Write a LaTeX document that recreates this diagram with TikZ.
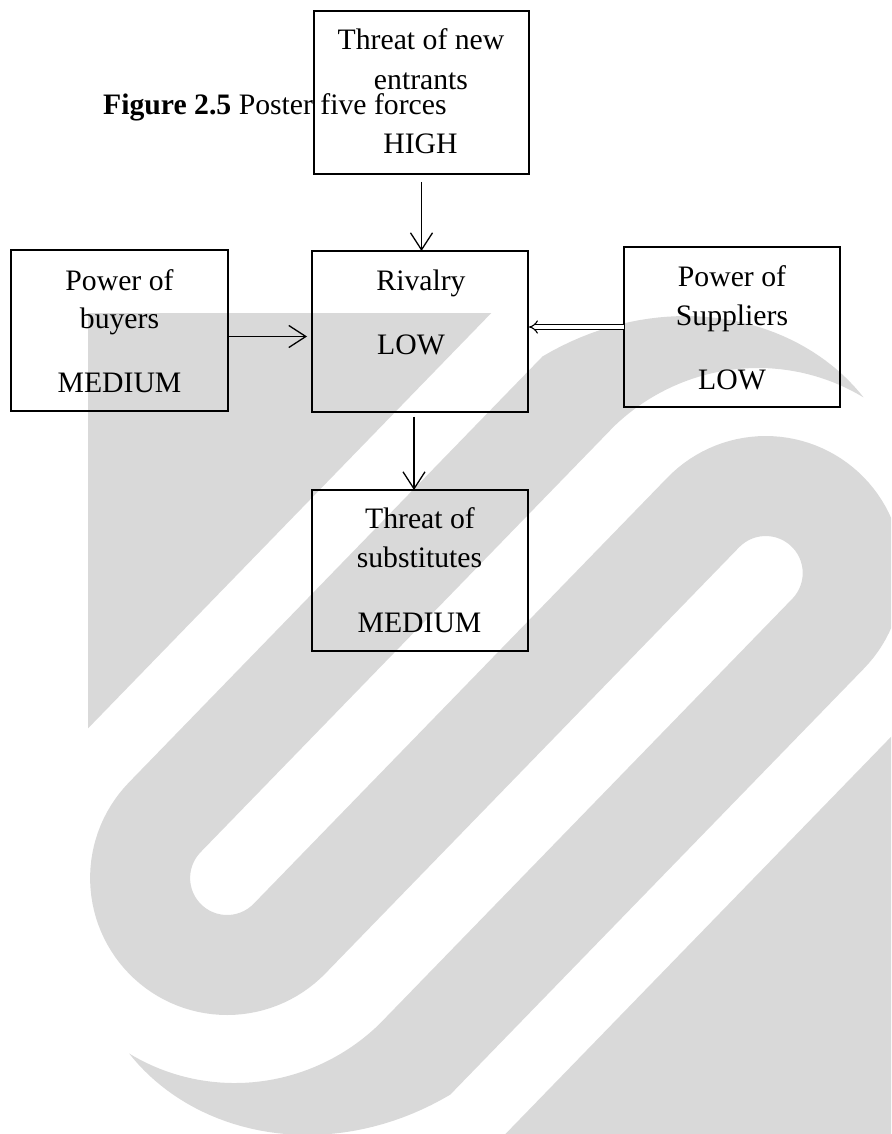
\documentclass[tikz,border=0pt]{standalone}
\usepackage{fontspec}
\setmainfont{Liberation Serif}
\usetikzlibrary{arrows.meta}
\definecolor{wmgray}{RGB}{217,217,217}
\begin{document}
\begin{tikzpicture}[x=1pt,y=-1pt,
  box/.style={draw, line width=1.8pt, inner sep=0pt, outer sep=0pt},
  lbl/.style={anchor=base, inner sep=0pt, font=\fontsize{29.7}{36}\selectfont},
  arr/.style={line width=1.3pt, -{Straight Barb[length=17pt,width=22pt]}},
  dbl/.style={line width=1.1pt, double, double distance=3.5pt, -{Implies}},
  wm/.style={fill=wmgray}]
\useasboundingbox (0,0) rectangle (891,1134);
% watermark
\begin{scope}
\clip (88,313) rectangle (891,1134);
\begin{scope}[shift={(227.1,878)}, x={(0.6966pt,0.7175pt)}, y={(0.7175pt,-0.6966pt)}]
\fill[wm] (-1500,-204) -- (1500,-204) -- (1500,-1500) -- (-1500,-1500) -- cycle;
\fill[wm] (-1500,378) -- (1500,378) -- (1500,1500) -- (-1500,1500) -- cycle;
\fill[wm]
  plot[domain=165:90, samples=40, variable=\t] ({(311-(\t-90)*110/75)*cos(\t)}, {(311-(\t-90)*110/75)*sin(\t)})
  -- (594,311)
  -- plot[domain=90:-90, samples=60, variable=\t] ({594+137*cos(\t)}, {174+137*sin(\t)})
  -- (0,37)
  -- plot[domain=90:270, samples=30, variable=\t] ({37*cos(\t)}, {37*sin(\t)})
  -- (594,-37)
  -- plot[domain=-90:-15, samples=40, variable=\t] ({594+(211-(\t+90)*10/75)*cos(\t)}, {174+(211-(\t+90)*10/75)*sin(\t)})
  -- plot[domain=-15:-90, samples=40, variable=\t] ({594+(311-(\t+90)*110/75)*cos(\t)}, {174+(311-(\t+90)*110/75)*sin(\t)})
  -- (0,-137)
  -- plot[domain=270:90, samples=60, variable=\t] ({137*cos(\t)}, {137*sin(\t)})
  -- (594,137)
  -- plot[domain=-90:90, samples=30, variable=\t] ({594+37*cos(\t)}, {174+37*sin(\t)})
  -- (0,211)
  -- plot[domain=90:165, samples=40, variable=\t] ({(211-(\t-90)*10/75)*cos(\t)}, {(211-(\t-90)*10/75)*sin(\t)})
  -- cycle;
\end{scope}
\end{scope}
% boxes
\node[box, minimum width=215pt, minimum height=163pt] (top) at (421.5,92.5) {};
\node[box, minimum width=217pt, minimum height=161pt] (buy) at (119.5,330.5) {};
\node[box, minimum width=216pt, minimum height=161pt] (riv) at (420,331.5) {};
\node[box, minimum width=216pt, minimum height=160pt] (sup) at (732,327) {};
\node[box, minimum width=216pt, minimum height=161pt] (sub) at (420,570.5) {};
% texts
\node[lbl, anchor=base west] (title) at (103,115) {\textbf{Figure 2.5} Poster five forces};
\node[lbl] (topA) at (421,50) {Threat of new};
\node[lbl] (topB) at (421,90) {entrants};
\node[lbl] (topC) at (420.5,154) {HIGH};
\node[lbl] (buyA) at (119.5,290) {Power of};
\node[lbl] (buyB) at (119.5,328) {buyers};
\node[lbl] (buyC) at (119.5,392) {MEDIUM};
\node[lbl] (rivA) at (421,290) {Rivalry};
\node[lbl] (rivB) at (411,354) {LOW};
\node[lbl] (supA) at (732,286) {Power of};
\node[lbl] (supB) at (732,325) {Suppliers};
\node[lbl] (supC) at (732,389) {LOW};
\node[lbl] (subA) at (420,528) {Threat of};
\node[lbl] (subB) at (419.5,567) {substitutes};
\node[lbl] (subC) at (419.5,632) {MEDIUM};
% connectors
\draw[arr, shorten <=8pt] (top.south) -- (top.south |- riv.north);
\draw[arr, shorten >=5pt] ([yshift=-6pt]buy.east) -- ([yshift=-6pt]buy.east -| riv.west);
\draw[arr, shorten <=4.5pt] ([xshift=-6pt]riv.south) -- ([xshift=-6pt]riv.south |- sub.north);
\draw[dbl, shorten >=1pt] (sup.west) -- (sup.west -| riv.east);
\end{tikzpicture}
\end{document}
